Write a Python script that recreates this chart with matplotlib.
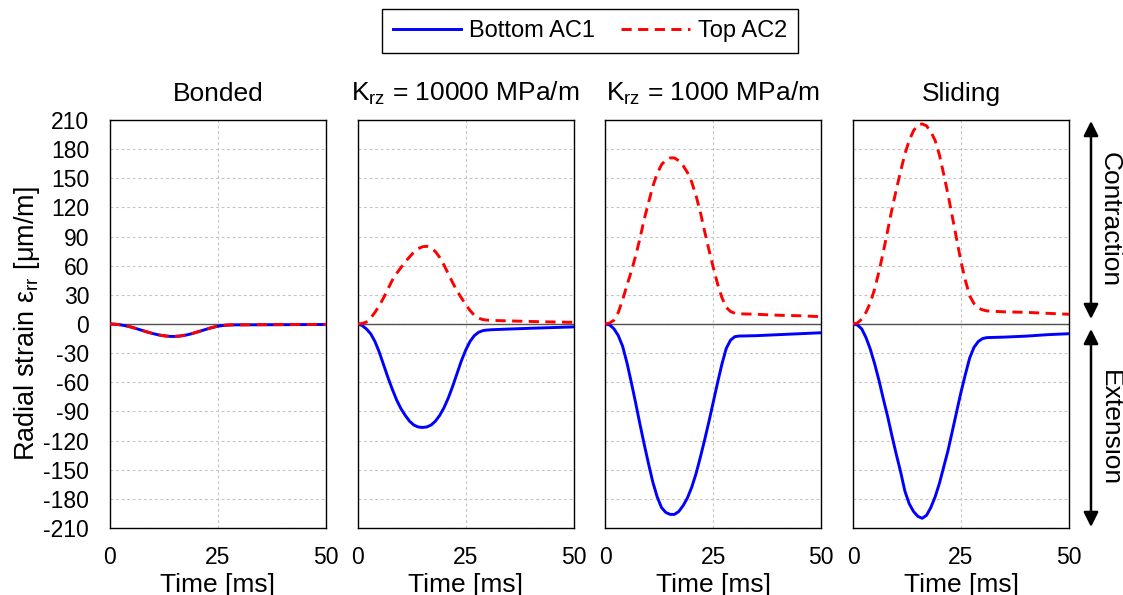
import matplotlib
matplotlib.use("Agg")
import matplotlib.pyplot as plt
from matplotlib.patches import FancyArrowPatch
from matplotlib.lines import Line2D

plt.rcParams['font.family'] = ['Liberation Sans', 'DejaVu Sans']
plt.rcParams['mathtext.fontset'] = 'custom'
plt.rcParams['mathtext.rm'] = 'Liberation Sans'
plt.rcParams['mathtext.it'] = 'Liberation Sans:italic'
plt.rcParams['axes.unicode_minus'] = False

# ---------------- data ----------------
time_ms = list(range(0, 32)) + [35, 40, 45, 50]

panel_titles = ["Bonded", r"K$_{\mathregular{rz}}$ = 10000 MPa/m",
                r"K$_{\mathregular{rz}}$ = 1000 MPa/m", "Sliding"]
series_labels = ["Bottom AC1", "Top AC2"]

bonded_bottom = [0, -0.2, -0.6, -1.3, -2.2, -3.3, -4.6, -6.0, -7.4, -8.7,
                 -9.9, -11.0, -11.8, -12.4, -12.8, -12.8, -12.5, -11.9, -11.0, -9.9,
                 -8.6, -7.2, -5.8, -4.5, -3.3, -2.3, -1.6, -1.2, -1.0, -0.9,
                 -0.9, -0.9, -0.8, -0.7, -0.6, -0.5]
bonded_top = [0, -0.2, -0.6, -1.3, -2.2, -3.3, -4.6, -6.0, -7.4, -8.7,
              -9.9, -11.0, -11.8, -12.4, -12.7, -12.7, -12.4, -11.8, -10.9, -9.8,
              -8.5, -7.1, -5.7, -4.4, -3.2, -2.2, -1.5, -1.1, -0.9, -0.8,
              -0.8, -0.8, -0.7, -0.6, -0.5, -0.4]

k10000_bottom = [0, -1.5, -5, -10, -18, -29, -42, -55, -67, -78,
                 -87, -94, -100, -104, -106, -106.5, -106, -104, -100, -94,
                 -86, -76, -64, -51, -38, -27, -18, -12, -8.5, -6.8,
                 -6.2, -5.9, -5.2, -4.4, -3.7, -3.0]
k10000_top = [0, 0.5, 2, 6, 12, 19, 27, 36, 45, 52,
              58, 64, 69, 74, 77.5, 79.5, 80, 78.5, 74.5, 68.5,
              60.5, 51.5, 42.5, 34, 27, 20, 14, 9, 6, 4.5,
              4, 3.7, 3.2, 2.6, 2.1, 1.7]

k1000_bottom = [0, -1, -5, -12, -23, -40, -60, -81, -103, -124,
                -144, -163, -178, -189, -194, -196, -196, -193, -187, -179,
                -168, -154, -137, -119, -100, -80, -60, -41, -25, -16.5,
                -13, -12.4, -12, -11, -10, -9]
k1000_top = [0, 1, 4, 12, 25, 40, 54, 70, 88, 108,
             125, 142, 155, 164, 169, 171, 171, 168, 163, 156,
             146, 132, 115, 95, 76, 58, 41, 27, 17, 12.8,
             11, 10.5, 10, 9, 8.5, 7.5]

sliding_bottom = [0, -1, -5, -14, -26, -41, -58, -77, -95, -115,
                  -134, -152, -172, -185, -193, -198, -200, -197, -189, -178,
                  -164, -147, -130, -110, -90, -70, -52, -35, -24, -18,
                  -15, -14, -13.5, -12.5, -11, -10]
sliding_top = [0, 1, 5, 12, 22, 36, 54, 74, 96, 118,
               138, 157, 175, 189, 199, 205, 206, 204, 198, 189,
               174, 154, 133, 110, 87, 64, 45, 29, 21, 16.5,
               14.5, 13.5, 12.5, 12, 11, 10]

bottom_series = [bonded_bottom, k10000_bottom, k1000_bottom, sliding_bottom]
top_series = [bonded_top, k10000_top, k1000_top, sliding_top]

x_ticks = [0, 25, 50]
y_ticks = list(range(-210, 211, 30))

# ---------------- figure ----------------
W, H = 1123, 595
fig = plt.figure(figsize=(W / 100, H / 100), dpi=100)
axes = fig.subplots(1, 4, sharey=True)
fig.subplots_adjust(left=110 / W, right=1069 / W, bottom=1 - 528 / H,
                    top=1 - 120 / H, wspace=0.147)

blue = '#0000FF'
red = '#FF0000'
dash = (0, (3.5, 2.2))

for i, ax in enumerate(axes):
    ax.set_xlim(0, 50)
    ax.set_ylim(-210, 210)
    ax.set_xticks(x_ticks)
    ax.set_yticks(y_ticks)
    ax.grid(True, linestyle=(0, (2.5, 2.5)), color='#c4c4c4', lw=0.8, zorder=0)
    ax.set_axisbelow(True)
    ax.axhline(0, color='#505050', lw=1.0, zorder=1.5)
    ax.plot(time_ms, bottom_series[i], color=blue, lw=2.1, zorder=3)
    ax.plot(time_ms, top_series[i], color=red, lw=2.1, linestyle=dash, zorder=4)
    ax.set_title(panel_titles[i], fontsize=19, pad=14)
    ax.set_xlabel("Time [ms]", fontsize=19, labelpad=3)
    ax.tick_params(axis='both', length=0, labelsize=16.5)
    ax.tick_params(axis='x', pad=13)
    ax.tick_params(axis='y', pad=15)
    for sp in ax.spines.values():
        sp.set_color('black')
        sp.set_linewidth(1.0)
    if i > 0:
        ax.tick_params(axis='y', labelleft=False)

axes[0].set_ylabel(r"Radial strain ε$_{\mathregular{rr}}$ [μm/m]", fontsize=19.5, labelpad=1)

handles = [Line2D([], [], color=blue, lw=2.1),
           Line2D([], [], color=red, lw=2.1, linestyle=dash)]
leg = fig.legend(handles, series_labels, loc='center',
                 bbox_to_anchor=(590 / W, 1 - 31 / H), ncol=2, fontsize=17,
                 frameon=True, fancybox=False, edgecolor='black', framealpha=1,
                 handlelength=2.9, columnspacing=1.1, borderpad=0.45,
                 handletextpad=0.35)
leg.get_frame().set_linewidth(1.0)

# right-side arrows and labels
ax_x = 1091 / W
for (y1, y2, label) in [(121, 319, "Contraction"), (329, 527, "Extension")]:
    arr = FancyArrowPatch((ax_x, 1 - y1 / H), (ax_x, 1 - y2 / H),
                          transform=fig.transFigure, arrowstyle='<|-|>',
                          mutation_scale=22, color='black', lw=1.8,
                          shrinkA=0, shrinkB=0)
    fig.add_artist(arr)
    fig.text(1110 / W, 1 - ((y1 + y2) / 2) / H, label, rotation=-90,
             ha='center', va='center', fontsize=19)

fig.savefig("out.png", dpi=100)
